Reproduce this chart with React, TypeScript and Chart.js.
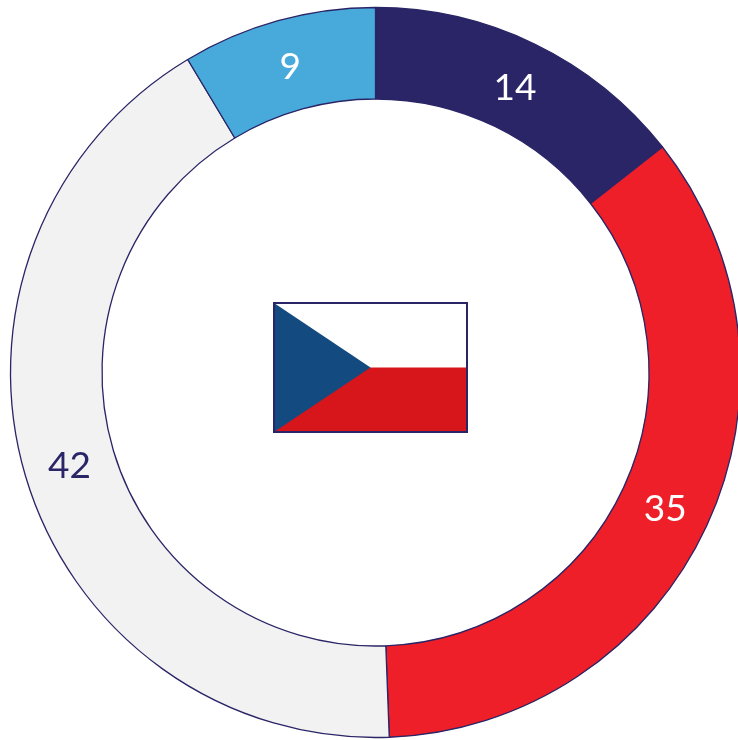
import React, { useEffect, useRef } from "react";
import { Chart, registerables } from "chart.js";

Chart.register(...registerables);

const categories = ["Segment A", "Segment B", "Segment C", "Segment D"];
const values = [14.4, 35.0, 42.0, 8.6];
const sliceColors = ["#2a2566", "#ee1f28", "#f2f2f2", "#48a9db"];
const labelColors = ["#ffffff", "#ffffff", "#2a2566", "#ffffff"];

const NAVY = "#2a2566";

const sliceLabels = {
  id: "sliceLabels",
  afterDatasetsDraw(chart: any) {
    const { ctx } = chart;
    const arcs = chart.getDatasetMeta(0).data;
    ctx.save();
    ctx.font = '37px Lato, "Open Sans", sans-serif';
    ctx.textAlign = "center";
    ctx.textBaseline = "middle";
    arcs.forEach((arc: any, i: number) => {
      const p = arc.getCenterPoint();
      ctx.fillStyle = labelColors[i];
      ctx.fillText(String(Math.round(values[i])), p.x, p.y + 2.5);
    });
    ctx.restore();
  },
};

const flag = {
  id: "flag",
  afterDraw(chart: any) {
    const { ctx } = chart;
    const arc = chart.getDatasetMeta(0).data[0];
    const x = arc.x - 101.5;
    const y = arc.y - 69.5;
    const w = 193;
    const h = 129;
    const midX = x + w * 0.5;
    const midY = y + h * 0.5;
    ctx.save();
    ctx.fillStyle = "#ffffff";
    ctx.fillRect(x, y, w, h / 2);
    ctx.fillStyle = "#d7161b";
    ctx.fillRect(x, midY, w, h / 2);
    ctx.fillStyle = "#134a80";
    ctx.beginPath();
    ctx.moveTo(x, y);
    ctx.lineTo(midX, midY);
    ctx.lineTo(x, y + h);
    ctx.closePath();
    ctx.fill();
    ctx.strokeStyle = NAVY;
    ctx.lineWidth = 2;
    ctx.strokeRect(x, y, w, h);
    ctx.restore();
  },
};

export default function App() {
  const ref = useRef<HTMLCanvasElement>(null);

  useEffect(() => {
    const chart = new Chart(ref.current as HTMLCanvasElement, {
      type: "doughnut",
      data: {
        labels: categories,
        datasets: [
          {
            data: values,
            backgroundColor: sliceColors,
            borderColor: NAVY,
            borderWidth: 1.3,
            hoverOffset: 0,
          },
        ],
      },
      options: {
        animation: false,
        responsive: false,
        radius: 365,
        cutout: "74.93%",
        layout: { padding: 0 },
        plugins: {
          legend: { display: false },
          tooltip: { enabled: false },
        },
      } as any,
      plugins: [sliceLabels, flag],
    });
    return () => chart.destroy();
  }, []);

  return (
    <div
      style={{
        position: "fixed",
        left: 0,
        top: 0,
        width: 738,
        height: 740,
        overflow: "hidden",
        background: "#ffffff",
      }}
    >
      <canvas ref={ref} width={751} height={745} style={{ display: "block" }} />
    </div>
  );
}
